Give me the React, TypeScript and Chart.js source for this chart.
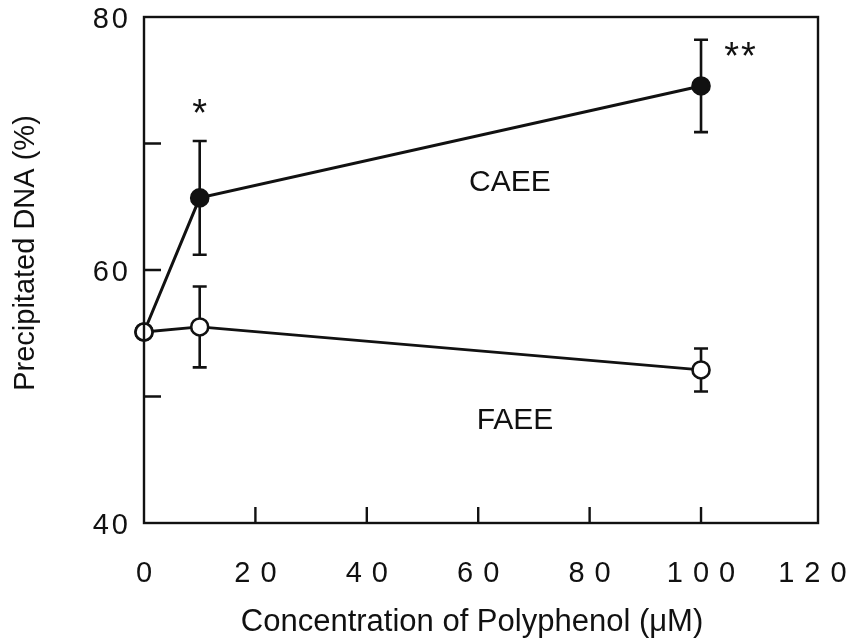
import React, { useEffect, useRef } from "react";
import { Chart, registerables } from "chart.js";

Chart.register(...registerables);

// ---- data ----
const concentrations = [0, 10, 100];
const caeeMean = [55.1, 65.7, 74.55];
const caeeErr = [0, 4.5, 3.65];
const faeeMean = [55.1, 55.5, 52.1];
const faeeErr = [0, 3.2, 1.7];

const xTickLabels = [0, 20, 40, 60, 80, 100, 120];
const xTickMarks = [20, 40, 60, 80, 100];
const yTickLabels = [40, 60, 80];
const yTickMarks = [50, 60, 70];

const annotationTexts = ["*", "**", "CAEE", "FAEE"];
const annotationX = [10, 107, 65.7, 66.6];
const annotationY = [73.0, 77.5, 67.1, 48.3];

const xTitle = "Concentration of Polyphenol (\u03bcM)";
const yTitle = "Precipitated DNA (%)";

const FONT = "'Liberation Sans', Arial, Helvetica, sans-serif";

function drawSpaced(
  ctx: CanvasRenderingContext2D,
  text: string,
  x: number,
  y: number,
  spacing: number,
  align: "center" | "right"
) {
  const chars = text.split("");
  const widths = chars.map((c) => ctx.measureText(c).width);
  const total = widths.reduce((a, b) => a + b, 0) + spacing * (chars.length - 1);
  let cx = align === "center" ? x - total / 2 : x - total;
  ctx.textAlign = "left";
  chars.forEach((c, i) => {
    ctx.fillText(c, cx, y);
    cx += widths[i] + spacing;
  });
}

const errorBarPlugin = {
  id: "errorBars",
  beforeDatasetsDraw(chart: any) {
    const ctx = chart.ctx as CanvasRenderingContext2D;
    const xs = chart.scales.x;
    const ys = chart.scales.y;
    const sets = [
      { m: caeeMean, e: caeeErr },
      { m: faeeMean, e: faeeErr },
    ];
    ctx.save();
    ctx.strokeStyle = "#111";
    ctx.lineWidth = 2.6;
    sets.forEach((s) => {
      concentrations.forEach((c, i) => {
        if (!s.e[i]) return;
        const px = xs.getPixelForValue(c);
        const top = ys.getPixelForValue(s.m[i] + s.e[i]);
        const bot = ys.getPixelForValue(s.m[i] - s.e[i]);
        ctx.beginPath();
        ctx.moveTo(px, top);
        ctx.lineTo(px, bot);
        ctx.moveTo(px - 7, top);
        ctx.lineTo(px + 7, top);
        ctx.moveTo(px - 7, bot);
        ctx.lineTo(px + 7, bot);
        ctx.stroke();
      });
    });
    ctx.restore();
  },
};

const framePlugin = {
  id: "frame",
  afterDraw(chart: any) {
    const ctx = chart.ctx as CanvasRenderingContext2D;
    const { left, right, top, bottom } = chart.chartArea;
    const xs = chart.scales.x;
    const ys = chart.scales.y;
    ctx.save();
    ctx.strokeStyle = "#111";
    ctx.lineWidth = 2.4;
    ctx.strokeRect(left, top, right - left, bottom - top);

    ctx.beginPath();
    xTickMarks.forEach((v) => {
      const px = xs.getPixelForValue(v);
      ctx.moveTo(px, bottom);
      ctx.lineTo(px, bottom - 16);
    });
    yTickMarks.forEach((v) => {
      const py = ys.getPixelForValue(v);
      ctx.moveTo(left, py);
      ctx.lineTo(left + 17, py);
    });
    ctx.stroke();

    ctx.fillStyle = "#111";
    ctx.textBaseline = "alphabetic";
    ctx.font = `29px ${FONT}`;
    xTickLabels.forEach((v) => {
      const px = xs.getPixelForValue(v);
      drawSpaced(ctx, String(v), px, bottom + 59, 10, "center");
    });
    yTickLabels.forEach((v) => {
      const py = ys.getPixelForValue(v);
      drawSpaced(ctx, String(v), left - 16, py + 11, 3, "right");
    });

    // axis titles
    ctx.font = `31px ${FONT}`;
    ctx.textAlign = "center";
    ctx.fillText(xTitle, 472, 631);

    ctx.save();
    ctx.font = `29px ${FONT}`;
    ctx.translate(34, 253);
    ctx.rotate(-Math.PI / 2);
    ctx.textAlign = "center";
    ctx.fillText(yTitle, 0, 0);
    ctx.restore();

    // annotations
    annotationTexts.forEach((t, i) => {
      const px = xs.getPixelForValue(annotationX[i]);
      const py = ys.getPixelForValue(annotationY[i]);
      if (t.startsWith("*")) {
        ctx.font = `38px ${FONT}`;
        drawSpaced(ctx, t, px, py + 0.525 * 38, 2, "center");
      } else {
        ctx.font = `30px ${FONT}`;
        ctx.textAlign = "center";
        ctx.fillText(t, px, py + 0.358 * 30);
      }
    });
    ctx.restore();
  },
};

export default function App() {
  const ref = useRef<HTMLCanvasElement | null>(null);
  useEffect(() => {
    document.body.style.margin = "0";
    const canvas = ref.current;
    if (!canvas) return;
    const chart = new Chart(canvas, {
      type: "line",
      data: {
        datasets: [
          {
            label: "FAEE",
            data: concentrations.map((c, i) => ({ x: c, y: faeeMean[i] })),
            borderColor: "#111",
            backgroundColor: "#ffffff",
            pointBackgroundColor: "#ffffff",
            pointBorderColor: "#111",
            pointRadius: 8.5,
            pointBorderWidth: 2.6,
            borderWidth: 2.8,
            tension: 0,
            clip: false,
          },
          {
            label: "CAEE",
            data: concentrations.map((c, i) => ({ x: c, y: caeeMean[i] })),
            borderColor: "#111",
            backgroundColor: "#111",
            pointBackgroundColor: "#111",
            pointBorderColor: "#111",
            pointRadius: 8.5,
            pointBorderWidth: 2.6,
            borderWidth: 3,
            tension: 0,
            clip: false,
          },
        ],
      },
      options: {
        animation: false,
        responsive: false,
        maintainAspectRatio: false,
        devicePixelRatio: 1,
        layout: { padding: { left: 144, right: 37, top: 17, bottom: 119 } },
        plugins: { legend: { display: false }, tooltip: { enabled: false } },
        scales: {
          x: { type: "linear", min: 0, max: 121, display: false },
          y: { type: "linear", min: 40, max: 80, display: false },
        },
      },
      plugins: [errorBarPlugin, framePlugin],
    });
    return () => chart.destroy();
  }, []);
  return (
    <div style={{ position: "fixed", left: 0, top: 0, width: 855, height: 642, background: "#fff" }}>
      <canvas ref={ref} width={855} height={642} style={{ width: 855, height: 642, display: "block" }} />
    </div>
  );
}
